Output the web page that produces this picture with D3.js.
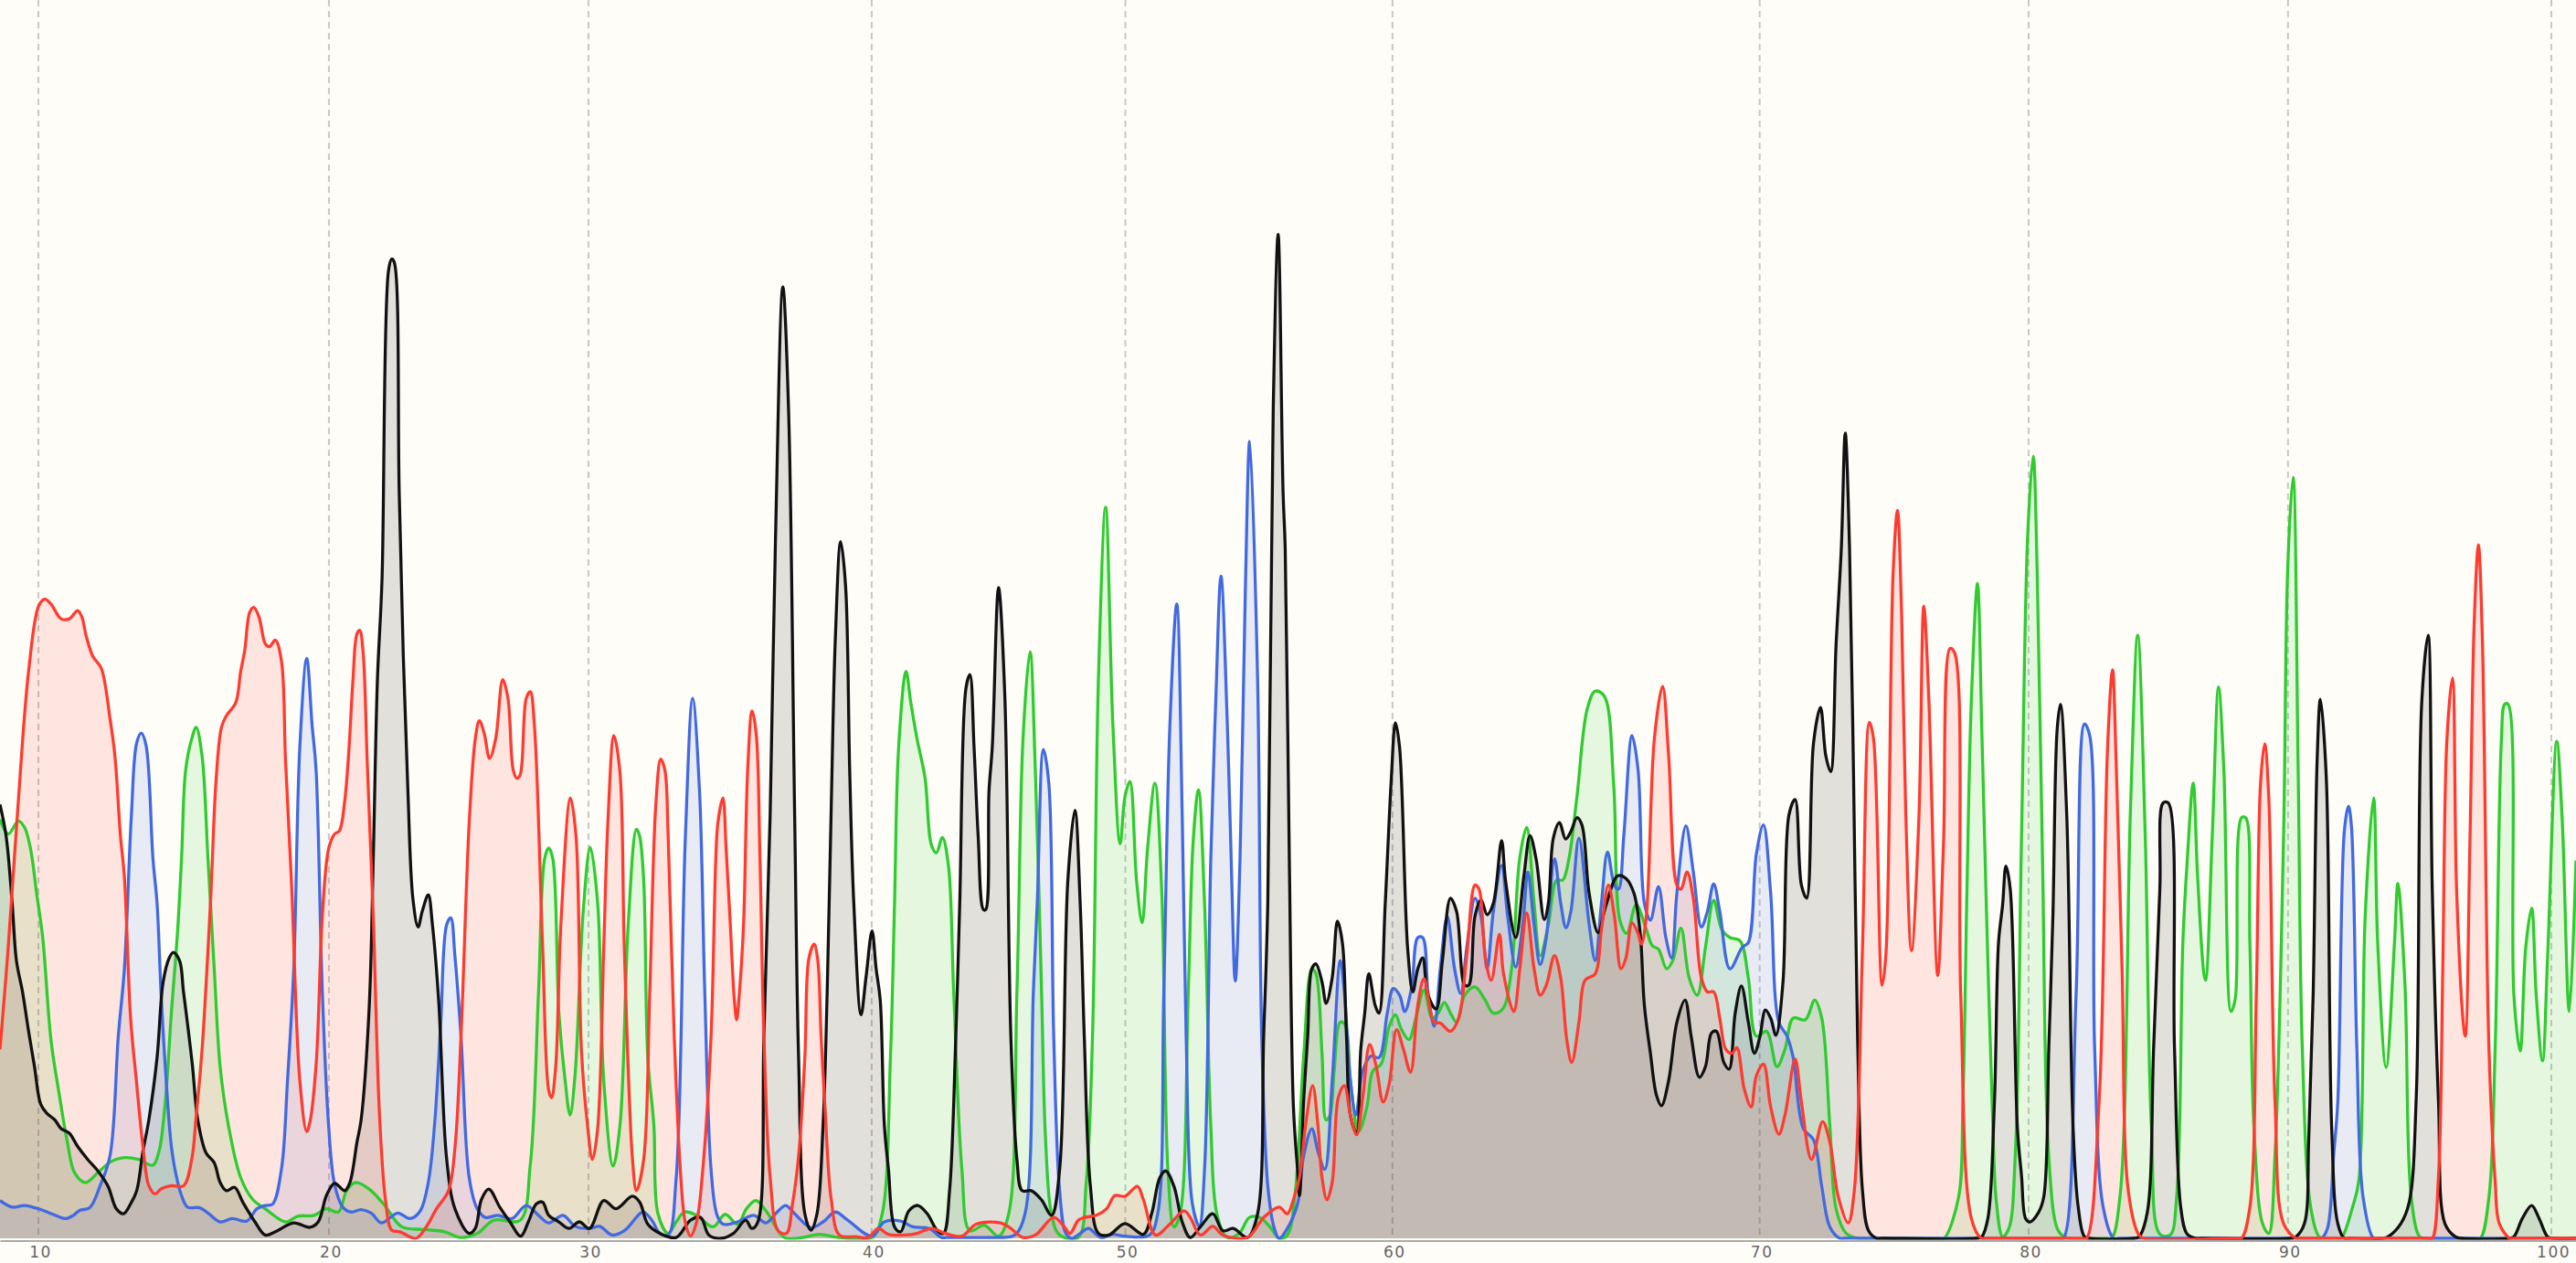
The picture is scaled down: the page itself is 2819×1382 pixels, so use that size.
<!DOCTYPE html>
<html>
<head>
<meta charset="utf-8">
<script src="https://cdnjs.cloudflare.com/ajax/libs/d3/7.8.5/d3.min.js"></script>
<style>
html,body{margin:0;padding:0;background:#FFFDF8;overflow:hidden}
svg{display:block}
</style>
</head>
<body>
<svg id="chart" width="2819" height="1382"></svg>
<script>
// Base-call axis: scan position of every tenth base and its label
const tickScans = [23.4,200.2,358.2,530.6,685,847.6,1071.1,1234.8,1392.7,1553];
const tickLabels = ["10","20","30","40","50","60","70","80","90","100"];

// Chromatogram traces, flat lists of scan, signal, scan, signal ...
const traceA = [
0,255,5,246,11.2,254,15,250,18.6,237,22.3,210,26,183,31,121,36,88,41,58.6,45.4,40,52,34,59.6,40,67,46.4,74.5,49,84.4,48,93,44.5,96.8,53,100.6,83,104.3,137,108,185.5,110.5,231,113,285,116.7,304,119.4,311,123,293.5,126.6,231,130.4,164,134,104.5,139,69,146.5,37,154,23.5,161.4,18,173.8,10,181.3,13.5,191.2,14,198.7,18,206,16,211,29,216.5,34,224.7,30,233.4,21,244.6,7,258,5.4,270.7,4,280.6,0.5,290.5,3,300.5,11,316.6,11,322.8,45,327.8,150,331.5,231,334,237.6,336.5,231,340.2,137,344,96,347,75,350,99,355,199,359.3,238,363.8,204,367.5,96,373.2,44,377.4,69,382.4,191,387.4,249,
389.3,245,391.8,218,394.3,110,398,69,400.5,15,406.7,3,411.6,10,416.6,16,424,14,434,7,441.4,14.6,448.9,8.6,454.4,18,460,23,466.3,16.7,477.5,0.5,488.6,0.5,498.6,2.4,511,0.5,530.8,0.5,537,15,542,110,544.5,204,547,299,551.5,345,554.4,326,558.2,304,563.1,280,566.9,239.5,570,234.6,573.6,244,577.3,227,580.5,150,585.5,42,590.4,4.6,599.1,8,607.8,1.3,614,15,619,150,622.7,304,627,357,630.2,285,634,150,636.4,61,640,15,645,2,656.3,0.5,661.2,34,665,123,668.6,340,673,445,677.4,312.6,681.8,240,684.8,269,687.8,278,691.8,218,695.2,192,698.5,237,703,277,707.2,210,710.9,42,714.6,7,718.3,15,723.3,150,726.3,242,729.5,273,733.2,204,737,69,740.7,15,746.9,0.5,754.3,3,760.5,12.7,766.8,12.7,773,7,778.7,0,
783.6,2,788.5,29,793.5,110,798.5,164,801,161,804.7,112.6,807.2,72,809.6,75,812.1,102,815.8,131.5,818.8,130,822,96,827,65,832,80,835.7,102,840.7,106,845.6,129,849.4,136,853.1,127,857.6,121,861.8,134,866.8,151,871.7,134,875.4,137,879.2,143.6,882.9,137,886.6,131.5,891.6,148,897.8,153,904,145,909,137,914.7,139.6,920.1,164,925,231,929.3,250,933.8,204,937.5,172,942.5,191,947.5,218,951.2,218,955,231,959.9,269,966.1,322,971,333,976.5,330,982.2,277,986,193.6,990.2,185.5,995.9,203,1002.1,188,1005.8,178,1009.5,176,1014.5,164,1018.2,169,1023.2,188.7,1028.2,158.5,1033.1,148,1038.1,177,1043.1,205.7,1048,188,1053,183,1059.2,181,1064.2,158.5,1069.1,123,1075.3,126,1081.6,104.5,1086.5,115,1091.5,134,1098.9,133,1104.6,145,1108.9,134,1113.8,69,1117.6,18,1123.8,3,1131.2,0,1135,0,
1180,0,1183.3,0,1192.2,25,1194.8,83,1197.3,213,1199.9,326,1203.7,398.5,1206.3,310,1208.8,213,1212.6,83,1215.2,22,1219,1,1222.8,6,1226.7,51,1230.5,245,1234.3,429,1237.6,476,1240,407,1243.3,229,1247,51,1252.2,6,1256,1,1259,0,1282,0,1285.3,0,1290.4,25,1296.8,261,1301.2,367,1305.8,245,1309.6,67,1314.7,2.6,1321,2,1324.9,25,1328.7,180,1331.3,229,1335,277,1337.6,222,1341.5,161,1342.5,157,1346.6,245,1350.4,335.5,1353.7,284,1358,138,1360.6,146,1364.4,256,1366.9,256,1369.5,180,1372,67,1377.2,9,1381,3,1384.8,51,1390,245,1392.5,407,1395.8,463,1398.9,284,1401.4,116,1406.5,19,1411.6,1,1415,0,1422,0,1425,0,1432,19,1435.8,35,1439.7,196.5,1444.8,268,1447.3,180,1452.4,104,1457.5,180,1459.6,216,1463.9,154.5,1467.7,25,1472.8,1,1476,0,1506,0,1509.8,0,1515,25,1518.8,116,1522.6,303,1524.6,325,1526.7,325,1530.2,148,1534,114,1537.4,177,1541,201,1543.8,148,1547.6,108,1550.7,171,1556.3,302.5,1559.6,255,1563.9,138,1568,230];

const traceC = [
0,23,7.4,19,14.9,20,24.8,17.5,32.3,14.6,39.7,12,44.7,14,48.4,17,54.6,18.6,60.8,31.6,67,50.5,72,123,75.7,164,80,258,83.2,301.6,86,307.5,88.9,300,93.1,231,95.6,204,98,150,100.6,104.5,104.3,56,107.3,38,110.5,26,114.2,19,121.7,18.6,126.6,15.4,134,10,141.5,12,150.2,10.5,156.4,18,161.4,20,165.9,20.8,171.3,42,175,96,178.8,164,182.5,299,186.7,353,190,312,192.4,285,196.2,150,200,69,203.6,33,208.6,19,213.6,16,219.8,17.5,226,15.4,232.2,9.4,242.1,15.4,249.6,12,255.8,16.7,260.7,34,264.5,69,268.2,129,271.9,191,274.4,195,276.9,172,280.6,123,285.6,37,290.5,18,295.5,12.7,303,14,311.6,12,320.3,20,327.8,14,334,9.4,342.7,14,350.1,7.3,358.8,6,365,7.3,372.5,2,380,4.6,389.4,15,
391.8,16,396.8,11,401.7,3,406.7,2,411.6,37,417.1,242,421.6,328.6,425.8,272,429,150,432.8,42,436.5,14,440.2,8.6,448.9,10,458.8,14,466.3,9.4,472.5,15.4,478.2,20,483.7,15,493.6,6.5,501,10,508.5,16,516,11,530.8,1.3,538.3,10,548.2,10.5,555.7,7,565.6,6,573,0.5,576,0.5,604,0.5,607.8,0.5,617.7,2,624,15.4,629,150,631.4,205,635.1,297.5,638.4,277,641.4,123,645,29,648.8,3,652.5,0,657.5,3,662.5,6,670,0.5,677.4,2.4,684.8,1.3,699.7,2,704.7,15,708.4,150,712.1,312,716.3,386,719.6,258,722,123,725.8,21,730,7.3,733.2,42,737,231,740,326,743.2,403,746.9,318,749.4,231,751.9,156.6,754.8,231,758,393,760.7,485,765.5,340,768,123,771.7,32,775.4,7,778.6,0,
783.6,6,789.8,21,793.5,50,798.5,66.7,802.2,53,806.4,42,810.9,96,815.8,169,818.3,150,822,96,825.3,75,829.5,102,834.5,111,839.4,110,844.4,137,848.1,152,851.9,148,855.1,138,859.3,153,863,183,866,183,869.2,150,873,129,876.7,164,880.9,196,885.4,164,889.1,149,892.8,177,897.8,207,901.5,196,905.2,164,909,199,914,227,917.7,196,922.6,165,926.9,191,930,223,933.8,191,937.5,166.6,941.2,183,946.2,231,950,204,953.2,189,956.2,199,961.1,243.5,967.3,191,971,169,974.8,204,978.5,235,982.7,215,985.2,212.5,988.4,245,993.4,306,997.1,285,1000.9,204,1004.6,193.6,1009.5,214,1014,183,1017.5,170.6,1020.7,210,1026.2,251,1030.7,223,1035.6,189.5,1039.3,199,1043.1,215.7,1046.8,199,1053,164,1060.4,177,1064.2,180,1069.1,234,1073.4,251.6,1077.8,210,1082.8,131.5,1087.8,123,1091.5,110,1097.7,66.7,1103.9,60,1108.9,31.6,1113.8,7,1120,0,1123,0,
1253,0,1256,0,1263.7,148,1268.8,313,1272,306,1275,116,1280.2,19,1286.6,0,1290,0,1410,0,1413,0,1416.7,6,1420.5,51,1423,83,1427,248,1429.5,263,1431.3,251,1434.6,116,1438.4,25,1444.8,0,1448,0,1565,0,1568,0];

const traceG = [
0,264,3.7,245,7.4,204,10,169,13.7,150,17.4,126,21,104.5,24.8,81.5,28.6,76,33.5,72,37.2,66.7,42.2,64,47.2,56,53.4,48,59.6,41,65.8,31.6,70.8,18,75.2,15,79.5,21,83.2,29,87,53,90.6,72,95.6,110,99.3,156,103,170.6,105.5,174,109.3,169,111.7,150,114.7,126,117.2,104.5,120.4,72,125.4,52,130.4,46,134,34,137.8,29,142.8,31,147.8,22,155.2,10,161.4,2,167.6,4,178.8,9.4,188.7,6.7,193.7,10,198.7,26,203.6,33.5,209.8,29,213,34,217.3,58.6,219.8,72,224.7,140,227.2,231,229.7,339,232.5,400,236.5,589,238.5,596,240,594,243,454,245.5,354,248.3,272,251.3,207,254.5,189.5,257,199,260.7,209,263.2,191,267,145,271.9,48,276.9,18,285.6,3,289.3,6,293,23.5,297.5,30,304.2,19,310.4,10,317,1.3,321.6,10,326.5,21,330.3,22,334,14,340.2,10,346.4,6,352.6,10,358.8,6,367.5,23,375,18,384.9,25.6,389.4,22,
394.3,8.6,401.7,3,411.6,0.5,420.3,11,426.5,12.7,431.5,2,439,0,446.4,3,453.9,11,457.6,6,461.3,10,465,123,468.8,258,472,424,476.5,579,480,504,483.7,258,486.1,110,489.9,15,493.6,5,497.3,15,501,69,503.5,150,506,264,508.5,366,511.7,424,514.7,397,517.2,285,519.7,204,524.1,136,527.1,158.5,530.8,187,533.3,164,535.8,145,538.3,69,540.8,42,544.5,7,548.2,4,553.2,16.7,558.7,20,564.4,15,570.6,4.6,574.3,3,578,29,581.8,123,584.2,204,588,335,590.4,343,592.9,299,595.4,245,598.6,200,600,200,602,272,604,299,607.8,396,611.6,331,615.3,123,619,48,622.2,29,627.7,29,633.9,23.5,640.1,14,645,42,650,218,654.3,260.5,657.5,204,660,123,663.7,32,668.6,3,674.9,2,684.8,9,696,2.4,701,15,706,37,709.6,41,714.6,31.6,719.6,10,724.5,0.5,730.7,7,738.2,15,744.4,4.6,750.6,6,759.3,0.5,765.5,15,769.2,123,771.7,204,775,504,778,611,781,454,782.3,420,784.8,231,787.3,80,789.8,42,791,26,
793.5,83,796,123,798.5,164,801,167,804.7,156,807.2,143,810.9,158.5,814.1,193,817.1,180,819.6,123,822,75,825.8,64,828.3,115,830.7,137,833.2,161,837,142,839.4,137,843.2,204,846.9,280,849.4,313.7,851.9,299,856.8,177,860,150,863,164,866,170.6,869.2,148,874.2,139.6,878,169,882.9,207,886.6,199,891.6,154,894,154,897.8,196,901.5,206,905.2,197,909,204,914,242,916.4,218,922.6,183,927.6,220.6,931.3,245,935,231,940,194,942.5,204,945.5,243.5,949.2,253,953,243,956.2,247.6,959.9,256,962.9,251.6,967.3,210,972.8,186,977.3,201.7,984.7,220.6,989.7,219,994.6,210,998.4,185.5,1000.9,142,1004.6,112.6,1008.3,87,1011.3,80.7,1015.7,96,1020.7,131.5,1025.7,145,1029.4,123,1034.4,98,1038.1,104.5,1041.8,125,1044.8,126,1049.3,107,1052.5,103,1056.2,137,1060,153.6,1064.2,131.5,1067.9,112.6,1071.1,122,1074.6,139,1077.8,134,1081,123.6,1085.3,156,1089,258,1092.7,267,1096.5,215,1099.7,207,1103.9,301.6,1108.1,323,1111.4,293.5,1114.3,284,1117.6,361,1120.8,420,1123.2,490,1125.8,420,1128.2,285,1130.7,123,1133.7,29,1137.4,4.6,1142.4,0,1146,0,
1203,0,1206.3,1,1210,12,1214,83,1216.5,180,1219,203,1221,226.6,1223.6,212.7,1228,67,1230.5,38,1233,12,1235.6,10,1240.7,15.5,1244,25,1247.1,116,1249.6,196.5,1252.2,310,1254.2,325,1258,258,1261.9,67,1265,19,1268.8,1,1272,0,1299,0,1302,1,1307,15.5,1310.9,116,1314.7,213,1316.7,265,1319.8,265,1323.6,116,1327.4,19,1331.3,2.6,1336.4,0,1340,0,1394,0,1397.6,1,1402.7,9,1405.3,60,1408,148,1410.4,290,1412.4,328,1416,280.5,1419.3,67,1423,9,1427,0,1430,0,1451,0,1453.7,1,1461.4,9,1466.5,22,1470.8,87,1474.1,326,1478,367,1480.5,213,1484.3,83,1488.2,9,1494.5,1,1498,0,1527,0,1530.2,1,1535.3,12,1541,20,1545.6,12,1550.7,1,1554,0,1568,0];

const traceT = [
0,115,5,177,11,264,17.4,345,23.6,385,27.3,389,31,386,37.2,377,42.2,377,47.2,382,49.7,378.5,52.6,366,56.6,354,61.6,347,67,316,70,293,73.3,245,75.7,220,79.5,134,83.2,94,87,56,90.6,32,94.4,27,98,30,104.3,32,111.7,32,116.7,48,119.2,72,123,115,128,202,131.6,280,134.8,311,137.8,318,143.5,326,146.5,345,149,358,152,381,154.5,384,157.7,378,161.4,362,163.9,360,167.6,364,171.3,351.5,173.8,291,177.5,215,182.5,96,186.7,65,188.7,71,192.5,107,196.2,196,200,237,203.6,246,206.6,248,209.8,266,212.3,296,214.8,339,217.3,368,219,370,221,357,223.5,291,227.2,196,231,75,234.7,23,238.4,5,243.4,4,253.3,0,259.5,7,265.7,18,273,29,277,56,280.6,123,285.6,253,289.3,304,291.8,315,294.8,307,298,292,301.7,304,306,340,309.2,328.6,312.4,285,314.6,280,316.6,282,320.3,328.6,322.8,332.6,325.3,312,330.3,177,334,90,335.7,85.6,338.2,104,341.4,191,347.2,268,350.6,245,353.9,115,357.6,69,360.6,48,363.8,67,367.5,177,370,253,373.7,306,377.4,283,380,177,385,48,387.4,29,
391.8,48,395.5,150,399.2,264,402.2,291.6,404.7,285,406.7,245,410.4,123,414.1,42,417.1,10,420.3,1.5,424,10,427.8,42,432.8,123,435.7,231,437,253,440,268,442,237,444.4,193.6,447,145,448.4,133,450.1,150,452.6,191,455.1,285,457.8,321,460.3,307,462.6,231,465,123,468.8,37,473.7,4.6,478.7,3,482.4,21,486.1,50,489.9,110,492.4,170.6,495.6,179,497.8,169,499.8,123,502.3,77.5,506,23.5,511,2,521,1,528.4,0.5,534.6,6,540.8,2.4,550.7,2,558.2,3,566.9,6,575.5,3,585.5,1.3,594.2,8.6,609,9.4,615.3,6,622.7,0.5,630.2,2,641.4,12.7,647.6,7.3,651.3,3,656.3,11,660,12.7,667.4,14,673.6,18,678.6,26,684.8,25.6,692.3,31.6,696,23.5,703.4,2,712,8.6,720.8,16.7,724.5,12.7,730.7,2,738.2,7.3,744.4,2,759.3,0.5,769.2,12.7,778.6,19,
783.6,15,787.3,23.5,791,37,794.7,69,799,93,802.2,69,804.7,37,807.7,23.5,810.9,34,814.6,85.6,818.3,93,822,75,825.8,63,829.5,85.6,833.7,118,837.7,104.5,841.9,83,845.6,94,850.1,127,854.3,115,858.6,101,863,142,866.8,158,873,131.5,876.7,131,882.9,126,887.9,134,892.8,172,897.8,215,900.3,212.5,904,172,907.7,157,912.7,185,915.2,161,921.4,138,925.1,164,929.3,198,933.8,164,937.5,148,941.2,154,946.2,172,950,158.5,953.7,120.7,956.7,107,961.1,131.5,964.8,157,971,161,974.8,188,979,215,982.7,196,986.7,164,989.7,170.6,993.4,192,997.1,185.5,999.1,179,1002.1,196,1007,304,1012,336,1015.7,293.5,1020.7,215,1023.2,212.5,1026.9,223,1030.7,207,1035.6,158.5,1039.3,150,1043.1,150,1046.8,134,1050.5,115,1054.2,112.6,1057.2,116,1061.7,91,1065.9,80,1069.1,99,1073.4,106,1077.8,80,1082.8,63.4,1086.5,75,1092.7,109,1096.5,83,1102.7,48,1109.4,71,1113.8,58.6,1118.8,26,1125,9.4,1128.7,29,1133.7,177,1137.9,314,1140.4,304,1145.6,154,1147.9,172,1152.3,404,1155,443,1157.5,380,1160,260,1163.5,175,1168,255,1171,384.6,1174,330,1179.5,160,1183,240,1187,359,1189.7,356.5,1193.5,148,1200,12,1206,0,1209,0,
1267,0,1270,0,1277.7,83,1282.8,297,1285.9,346,1288,293,1291.7,164,1295.6,28,1302,2,1305,0,1361,0,1364.4,0,1369.5,19,1373.4,148,1376,277,1378.5,301,1381,268,1384.8,83,1390,9,1397.6,0,1400,0,1478,0,1480.5,0,1484.3,38,1486.9,164,1489.4,303,1492.8,341,1495.3,213,1499.6,129,1500.6,123,1503.5,245,1506,374,1508.6,422,1511,365,1515,116,1518.8,35,1521.3,9,1527.7,0,1530,0,1568,0];

const traceNames = ["A","C","G","T"];
const traceColors = ["#2fcb2f","#4169e1","#111111","#ff3b30"];
const traceValues = [traceA,traceC,traceG,traceT];

const W = 2819, H = 1382;
const x = d3.scaleLinear().domain([0,1568]).range([0,W]);
const y = d3.scaleLinear().domain([0,753.6]).range([1355,0]);
const svg = d3.select("#chart");

svg.append("rect").attr("width",W).attr("height",H).attr("fill","#FFFDF8");
const defs = svg.append("defs");
defs.append("clipPath").attr("id","plotFill").append("rect").attr("width",W).attr("height",y(0));
defs.append("clipPath").attr("id","plotLine").append("rect").attr("width",W).attr("height",y(0)+1.6);

// dashed gridlines at every tenth base
svg.append("g").selectAll("line").data(tickScans).join("line")
  .attr("x1",d=>x(d)).attr("x2",d=>x(d)).attr("y1",0).attr("y2",y(0))
  .attr("stroke","#c8c8c8").attr("stroke-width",2).attr("stroke-dasharray","7 5");

const pairs = flat => d3.range(0,flat.length,2).map(i=>[flat[i],flat[i+1]]);
const curve = d3.curveCatmullRom.alpha(0.5);
const area = d3.area().x(d=>x(d[0])).y0(y(0)).y1(d=>y(d[1])).curve(curve);
const line = d3.line().x(d=>x(d[0])).y(d=>y(d[1])).curve(curve);

const gFill = svg.append("g").attr("clip-path","url(#plotFill)");
const gLine = svg.append("g").attr("clip-path","url(#plotLine)");
traceNames.forEach((name,i)=>{
  gFill.append("path").datum(pairs(traceValues[i])).attr("d",area)
    .attr("fill",traceColors[i]).attr("fill-opacity",0.12);
});
traceNames.forEach((name,i)=>{
  gLine.append("path").datum(pairs(traceValues[i])).attr("d",line).attr("fill","none")
    .attr("stroke",traceColors[i]).attr("stroke-width",3.3).attr("stroke-linejoin","round");
});

// base-number axis
const axis = d3.axisBottom(x).tickValues(tickScans).tickFormat((d,i)=>tickLabels[i]).tickSize(0).tickPadding(6);
const gAxis = svg.append("g").attr("transform","translate(0,1357.5)").call(axis);
gAxis.select(".domain").attr("stroke","#aaaaaa").attr("stroke-width",2);
gAxis.selectAll("text").attr("font-family","'DejaVu Sans',sans-serif").attr("font-size",17)
  .attr("letter-spacing",1.5).attr("fill","#666666").attr("dx",2);
</script>
</body>
</html>
